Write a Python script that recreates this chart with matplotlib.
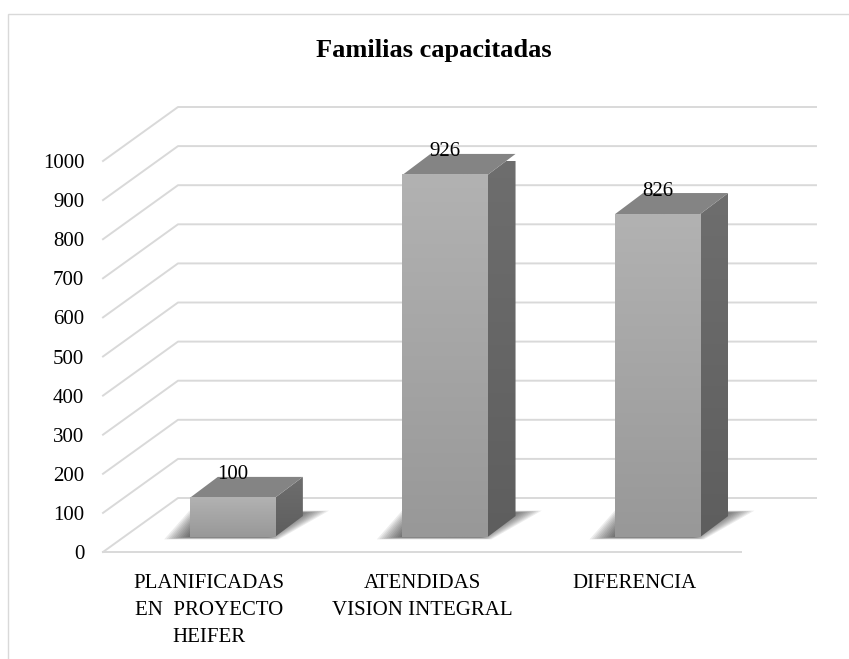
import numpy as np
import matplotlib.pyplot as plt
from matplotlib.patches import Polygon, Rectangle
from matplotlib.colors import LinearSegmentedColormap

categorias = ["PLANIFICADAS\nEN  PROYECTO\nHEIFER", "ATENDIDAS\nVISION INTEGRAL", "DIFERENCIA"]
valores = [100, 926, 826]
ticks_y = list(range(0, 1001, 100))
titulo = "Familias capacitadas"

plt.rcParams['font.family'] = ['Liberation Serif', 'DejaVu Serif']

W, H = 849, 659
fig = plt.figure(figsize=(W / 100, H / 100), dpi=100)

# front plane of the walls (pixels in the image)
left, right, base, top = 103, 741, 552, 161
ax = fig.add_axes([left / W, 1 - base / H, (right - left) / W, (base - top) / H])
ax.set_xlim(0, len(valores))
ax.set_ylim(0, 1000)


def px(dx, dy):
    # pixel offset (right, up) -> data offset
    return dx * len(valores) / (right - left), dy * 1000 / (base - top)


back_dx, back_dy = px(75, 54)   # back wall
bar_dx, bar_dy = px(23, 15)     # front face of the bars
dep_dx, dep_dy = px(28, 21)     # depth of the bars

grid_c = '#d9d9d9'
for v in ticks_y:
    ax.plot([0, back_dx, len(valores) + back_dx], [v, v + back_dy, v + back_dy],
            color=grid_c, lw=1.4, clip_on=False, zorder=1)
ax.plot([0, len(valores)], [0, 0], color=grid_c, lw=1.4, clip_on=False, zorder=1)

cm_front = LinearSegmentedColormap.from_list('front', ['#989898', '#b2b2b2'])
cm_side = LinearSegmentedColormap.from_list('side', ['#5e5e5e', '#6e6e6e'])
grad = np.linspace(0, 1, 256).reshape(-1, 1)

ancho = 0.4
sx, sy = px(1, 1)
for i, v in enumerate(valores):
    xc = i + 0.5 + bar_dx
    x0, x1 = xc - ancho / 2, xc + ancho / 2
    y0, y1 = bar_dy, v + bar_dy

    # soft shadow on the floor
    sh = np.array([(x0 - 22 * sx, y0 - 2 * sy), (x1 + 2 * sx, y0 - 2 * sy),
                   (x1 + dep_dx + 22 * sx, y0 + dep_dy + 5 * sy), (x0 + 2 * sx, y0 + dep_dy + 5 * sy)])
    cen = sh.mean(axis=0)
    for s in np.linspace(1.05, 0.7, 12):
        pts = cen + (sh - cen) * np.array([s, 0.5 + 0.5 * s])
        ax.add_patch(Polygon(pts, closed=True, fc='#1a1a1a', ec='none', alpha=0.08,
                             clip_on=False, zorder=2))

    side = Polygon([(x1, y0), (x1 + dep_dx, y0 + dep_dy), (x1 + dep_dx, y1 + dep_dy), (x1, y1)],
                   closed=True, fc='none', ec='none', zorder=3)
    ax.add_patch(side)
    im = ax.imshow(grad, cmap=cm_side, origin='lower', aspect='auto',
                   extent=[x1, x1 + dep_dx, y0, y1 + dep_dy], zorder=3)
    im.set_clip_path(side)

    tapa = Polygon([(x0, y1), (x1, y1), (x1 + dep_dx, y1 + dep_dy), (x0 + dep_dx, y1 + dep_dy)],
                   closed=True, fc='#848484', ec='none', zorder=4, clip_on=False)
    ax.add_patch(tapa)

    im = ax.imshow(grad, cmap=cm_front, origin='lower', aspect='auto',
                   extent=[x0, x1, y0, y1], zorder=5)
    im.set_clip_on(False)

    lx, ly = px(0, 2)
    ax.text(xc - lx, y1 + dep_dy + ly, str(v), ha='center', va='center', fontsize=15, zorder=6)

ax.set_xlim(0, len(valores))
ax.set_ylim(0, 1000)
ax.set_yticks(ticks_y)
ax.set_xticks([i + 0.5 for i in range(len(valores))])
ax.set_xticklabels(categorias, fontsize=15, linespacing=1.55)
ax.tick_params(axis='y', length=0, pad=13.5, labelsize=15)
ax.tick_params(axis='x', length=0, pad=16)
for s in ax.spines.values():
    s.set_visible(False)
ax.patch.set_visible(False)

fig.add_artist(Rectangle((8 / W, -0.1), 1.2, (H - 14) / H + 0.1, transform=fig.transFigure,
                         fill=False, ec='#d9d9d9', lw=1))
fig.text(434 / W, 1 - 51 / H, titulo, ha='center', va='center', fontsize=19, fontweight='bold')

fig.savefig('out.png', dpi=100)
